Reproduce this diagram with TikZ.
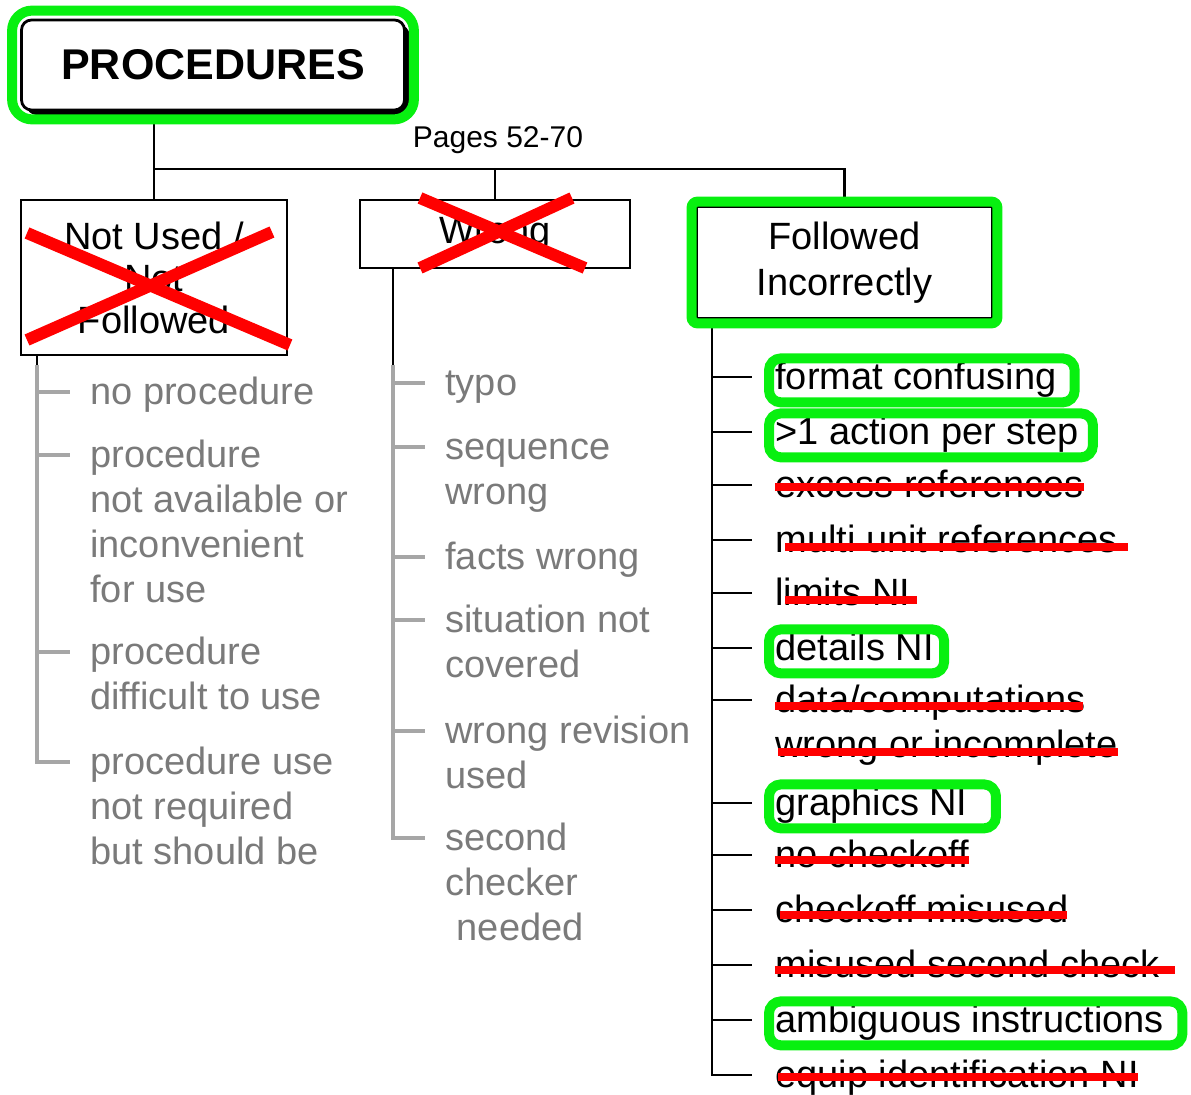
\documentclass[tikz,border=0pt]{standalone}
\usepackage{fontspec}
\setmainfont{Liberation Sans}
\usetikzlibrary{calc,fit,shadows}

\definecolor{kept}{RGB}{8,240,16}
\definecolor{cut}{RGB}{255,0,0}

\tikzset{
  tree/.style={line width=1.4pt},
  faded/.style={line width=1.6pt, draw=black!35},
  catbox/.style={draw, line width=1.4pt, fill=white, align=center,
    font=\fontsize{19}{21}\selectfont},
  item/.style={anchor=base west, inner sep=0pt, text height=13.6pt, text depth=4pt,
    font=\fontsize{19}{22.5}\selectfont},
  fitem/.style={anchor=base west, inner sep=0pt, align=left, text=black!52,
    font=\fontsize{19}{22.5}\selectfont},
  hl/.style={draw=kept, line width=5pt, rounded corners=6pt, inner xsep=3pt, inner ysep=2pt},
  strike/.style={draw=cut, line width=4pt},
  cross/.style={draw=cut, line width=6pt},
}

\begin{document}
\begin{tikzpicture}[x=0.5pt,y=-0.5pt]
  \useasboundingbox (0,0) rectangle (1191,1095);

  % category boxes
  \node[catbox, rounded corners=5pt, minimum width=191.5pt, minimum height=45pt,
    font=\fontsize{21.5}{24}\selectfont\bfseries,
    drop shadow={shadow xshift=2.5pt, shadow yshift=-2.5pt, fill=black, opacity=1}]
    (proc) at (213,65) {PROCEDURES};
  \node[catbox, minimum width=133pt, minimum height=77.5pt] (notused) at (154,277.5) {Not Used /\\Not\\Followed};
  \node[catbox, minimum width=135pt, minimum height=34pt] (wrong) at (495,234) {Wrong};
  \node[catbox, minimum width=147.5pt, minimum height=55.5pt, font=\fontsize{19}{23}\selectfont]
    (followed) at (844.5,262.5) {Followed\\Incorrectly};
  \node[font=\fontsize{15}{17}\selectfont] (pages) at (498,140) {Pages 52-70};

  \coordinate (bus) at (0,169);
  \coordinate (fadeline) at (0,365);
  \coordinate (lspine) at (37,0);
  \coordinate (mspine) at (393,0);
  \coordinate (fspine) at (712,0);

  \draw[tree] (notused.north |- proc.south) -- (notused.north);
  \draw[tree] (notused.north |- bus) -- (bus -| followed.north) -- (followed.north);
  \draw[tree] (wrong.north |- bus) -- (wrong.north);

  % not used / not followed (placed at the last line's baseline)
  \node[fitem] (l1) at (90,405) {no procedure};
  \node[fitem] (l2) at (90,603) {procedure\\not available or\\inconvenient\\for use};
  \node[fitem] (l3) at (90,710) {procedure\\difficult to use};
  \node[fitem] (l4) at (90,865) {procedure use\\not required\\but should be};
  \draw[tree] (notused.south -| lspine) -- (lspine |- fadeline);
  \draw[faded] (lspine |- fadeline) -- ($(l4.base west)+(-53,-103)$) -- ++(33,0);
  \foreach \n/\k in {l1/0, l2/3, l3/1}
    \draw[faded] ($(\n.base west)+(-53,-13-45*\k)$) -- ++(33,0);

  % wrong
  \node[fitem] (m1) at (445,396) {typo};
  \node[fitem] (m2) at (445,505) {sequence\\wrong};
  \node[fitem] (m3) at (445,570) {facts wrong};
  \node[fitem] (m4) at (445,678) {situation not\\covered};
  \node[fitem] (m5) at (445,789) {wrong revision\\used};
  \node[fitem] (m6) at (445,941) {second\\checker\\\hspace{0.3em}needed};
  \draw[tree] (wrong.south -| mspine) -- (mspine |- fadeline);
  \draw[faded] (mspine |- fadeline) -- ($(m6.base west)+(-52,-103)$) -- ++(32,0);
  \foreach \n/\k in {m1/0, m2/1, m3/0, m4/1, m5/1}
    \draw[faded] ($(\n.base west)+(-52,-13-45*\k)$) -- ++(32,0);

  % followed incorrectly
  \node[item] (i1) at (775,390) {format confusing};
  \node[item] (i2) at (775,445) {>1 action per step};
  \node[item] (i3) at (775,498) {excess references};
  \node[item] (i4) at (775,553) {multi unit references};
  \node[item] (i5) at (775,606) {limits NI};
  \node[item] (i6) at (775,661) {details NI};
  \node[item] (i7) at (775,713) {data/computations};
  \node[item] (i7w) at (775,758) {wrong or incomplete};
  \node[item] (i8) at (775,816) {graphics NI};
  \node[item] (i9) at (775,868) {no checkoff};
  \node[item] (i10) at (775,923) {checkoff misused};
  \node[item] (i11) at (775,978) {misused second check};
  \node[item] (i12) at (775,1033) {ambiguous instructions};
  \node[item] (i13) at (775,1088) {equip identification NI};
  \draw[tree] (followed.south -| fspine) -- ($(i13.base west)+(-63,-13)$) -- ++(40,0);
  \foreach \n in {i1,i2,i3,i4,i5,i6,i7,i8,i9,i10,i11,i12}
    \draw[tree] ($(\n.base west)+(-63,-13)$) -- ++(40,0);

  % marks
  \node[hl, rounded corners=10pt, inner sep=4pt, fit=(proc)] (prochl) {};
  \node[hl, rounded corners=3pt, inner sep=2pt, fit=(followed)] (followedhl) {};
  \foreach \n/\r in {i1/12, i2/8, i6/4, i8/22, i12/12} {
    \coordinate (\n-r) at ($(\n.east)+(\r,0)$);
    \node[hl, fit=(\n) (\n-r)] {};
  }
  \foreach \n/\a/\b/\h in {i3/0/0/11, i4/10/10/6, i5/10/6/6, i7/0/-3/7, i7w/3/0/6,
                           i9/0/0/8, i10/5/-2/8, i11/0/15/8, i13/3/-1/11}
    \draw[strike] ($(\n.base west)+(\a,-\h)$) -- ($(\n.base east)+(\b,-\h)$);

  \draw[cross] (27,233) -- (290,345);
  \draw[cross] (27,340) -- (272,232);
  \draw[cross] (420,198) -- (585,268);
  \draw[cross] (420,268) -- (572,198);
\end{tikzpicture}
\end{document}
